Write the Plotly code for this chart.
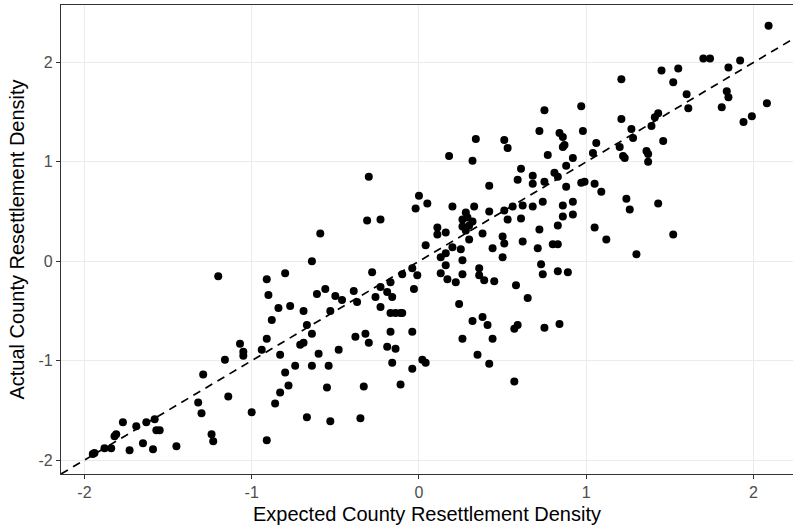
import plotly.graph_objects as go

expected = [
    -1.95, -1.94, -1.88, -1.84, -1.82, -1.81, -1.77, -1.73, -1.69, -1.65, -1.63, -1.59, -1.58, -1.57, -1.55, -1.45,
    -1.32, -1.30, -1.29, -1.24, -1.23, -1.20, -1.16, -1.14, -1.07, -1.05, -1.05, -1.00,
    -0.94, -0.91, -0.91, -0.91, -0.90, -0.88, -0.86, -0.84, -0.83, -0.83, -0.78, -0.80, -0.80, -0.77, -0.74, -0.71,
    -0.69, -0.69, -0.67, -0.67, -0.64, -0.64, -0.64, -0.61, -0.60, -0.59, -0.56, -0.55, -0.54, -0.53, -0.53, -0.50,
    -0.48, -0.46, -0.39, -0.38, -0.37, -0.35, -0.33, -0.32, -0.31, -0.30, -0.30, -0.28, -0.26, -0.23, -0.23, -0.23,
    -0.19, -0.19, -0.17, -0.17, -0.17, -0.16, -0.16, -0.14, -0.14, -0.11, -0.11, -0.10, -0.10, -0.04, -0.04, -0.04,
    -0.03, -0.02, -0.01, 0.00, 0.02, 0.04, 0.04, 0.05,
    0.11, 0.11, 0.16, 0.13, 0.13, 0.16, 0.16, 0.17, 0.18, 0.20, 0.20, 0.22, 0.24, 0.25, 0.26, 0.26, 0.26, 0.28,
    0.26, 0.29, 0.32, 0.26, 0.30, 0.28, 0.30, 0.32, 0.32, 0.33, 0.34, 0.35, 0.36, 0.36, 0.38, 0.38, 0.39, 0.41,
    0.42, 0.42, 0.42, 0.44, 0.44, 0.45,
    0.50, 0.50, 0.51, 0.51, 0.51, 0.53, 0.53, 0.56, 0.57, 0.58, 0.59, 0.57, 0.59, 0.61, 0.61, 0.62, 0.62, 0.65,
    0.68, 0.68, 0.68, 0.71, 0.72, 0.74, 0.72, 0.73, 0.74, 0.75, 0.75, 0.75, 0.77, 0.80, 0.83, 0.81, 0.83, 0.83,
    0.83, 0.84, 0.84, 0.86, 0.87, 0.86, 0.86, 0.86, 0.88, 0.88, 0.89, 0.92, 0.92, 0.92, 0.97, 0.98, 0.97, 0.99,
    1.04, 1.05, 1.05, 1.06, 1.09, 1.12,
    1.21, 1.21, 1.20, 1.22, 1.23, 1.24, 1.26, 1.27, 1.28, 1.30, 1.36, 1.37, 1.37, 1.43, 1.41, 1.39, 1.43, 1.45,
    1.46, 1.52, 1.52, 1.55, 1.60, 1.61, 1.70, 1.74, 1.81, 1.84, 1.85, 1.85, 1.92, 1.94, 1.99, 2.08, 2.09,
]

actual = [
    -1.94, -1.93, -1.88, -1.88, -1.76, -1.74, -1.62, -1.90, -1.66, -1.83, -1.62, -1.89, -1.59, -1.70, -1.70, -1.86,
    -1.42, -1.53, -1.14, -1.74, -1.81, -0.15, -0.99, -1.36, -0.83, -0.95, -0.91, -1.52,
    -0.89, -0.78, -1.80, -0.18, -0.34, -0.59, -1.43, -0.47, -0.94, -1.32, -1.25, -1.12, -0.12, -0.45, -1.05, -0.84,
    -0.82, -0.50, -0.64, -1.57, -0.73, -1.05, 0.00, -0.33, -0.93, 0.28, -0.28, -1.27, -1.05, -1.61, -0.50, -0.35,
    -0.89, -0.39, -0.30, -0.76, -0.41, -1.58, -1.26, -0.73, 0.41, -0.82, 0.85, -0.11, -0.36, -0.26, 0.42, -0.46,
    -0.31, -0.86, -0.52, -0.71, -0.21, -1.02, -0.36, -0.52, -0.88, -0.52, -1.24, -0.13, -0.52, -0.07, -0.71, -1.08,
    -0.28, 0.53, -0.14, 0.66, -0.99, -1.02, 0.16, 0.58,
    0.34, 0.27, 0.29, 0.04, -0.12, 0.08, -0.04, -0.18, 1.06, 0.55, 0.14, -0.21, -0.43, 0.12, 0.01, -0.13, -0.78, 0.49,
    0.42, 0.44, 0.40, 0.35, 0.36, 0.31, 0.22, 1.01, -0.60, 0.55, 1.23, -0.94, -0.07, -0.14, 0.28, -0.56, -0.19, -0.64,
    0.50, -1.03, 0.76, 0.13, -0.78, -0.20,
    0.25, 0.04, 1.22, 0.51, 0.18, 1.14, 0.42, 0.55, -1.21, -0.24, -0.64, -0.68, 0.82, 0.93, 0.43, 0.56, 0.20, -0.37,
    0.86, 0.55, 0.78, 0.13, 1.31, 0.60, 0.32, -0.03, -0.13, -0.67, 1.52, 0.80, 1.07, 0.17, 0.17, 0.89, 0.85, 0.36,
    -0.10, 1.29, -0.63, 1.15, 1.17, 1.25, 0.56, 0.45, 0.75, 0.96, -0.11, 1.04, 0.60, 0.47, 1.56, 1.31, 0.79, 0.80,
    1.09, 0.78, 0.34, 1.19, 0.70, 0.22,
    1.83, 1.43, 1.15, 1.06, 1.04, 0.63, 0.52, 1.33, 1.24, 0.07, 1.11, 1.08, 1.00, 1.49, 1.45, 1.36, 0.58, 1.92,
    1.21, 0.27, 1.80, 1.94, 1.68, 1.54, 2.04, 2.04, 1.55, 1.71, 1.65, 1.95, 2.02, 1.40, 1.46, 1.59, 2.37,
]

tick_values = [-2, -1, 0, 1, 2]
tick_labels = ["-2", "-1", "0", "1", "2"]
x_range = [-2.14, 2.236]
y_range = [-2.14, 2.578]

x_title = "Expected County Resettlement Density"
y_title = "Actual County Resettlement Density"

fig = go.Figure()

# identity reference line y = x spanning the panel
fig.add_trace(go.Scatter(
    x=x_range, y=x_range, mode="lines",
    line=dict(color="black", width=1.7, dash="8px,6px"),
    hoverinfo="skip", showlegend=False,
))

fig.add_trace(go.Scatter(
    x=expected, y=actual, mode="markers",
    marker=dict(color="black", size=8, line=dict(width=0)),
    showlegend=False,
))

font_family = "Liberation Sans, Arial, Helvetica, sans-serif"
axis_common = dict(
    tickvals=tick_values, ticktext=tick_labels,
    showgrid=True, gridcolor="#EBEBEB", gridwidth=1.2,
    zeroline=False,
    showline=True, mirror=True, linecolor="#333333", linewidth=1.2,
    ticks="outside", ticklen=4, tickcolor="#333333", tickwidth=1.2,
    tickfont=dict(family=font_family, size=16, color="#4D4D4D"),
)

fig.update_layout(
    width=793, height=527,
    margin=dict(l=61, r=0, t=5, b=53),
    paper_bgcolor="white", plot_bgcolor="white",
    font=dict(family=font_family, color="black"),
    xaxis=dict(range=x_range, title=dict(text=x_title, font=dict(size=20, color="black"), standoff=6), **axis_common),
    yaxis=dict(range=y_range, title=dict(text=y_title, font=dict(size=20, color="black"), standoff=8), **axis_common),
)

fig.write_html("out.html")
